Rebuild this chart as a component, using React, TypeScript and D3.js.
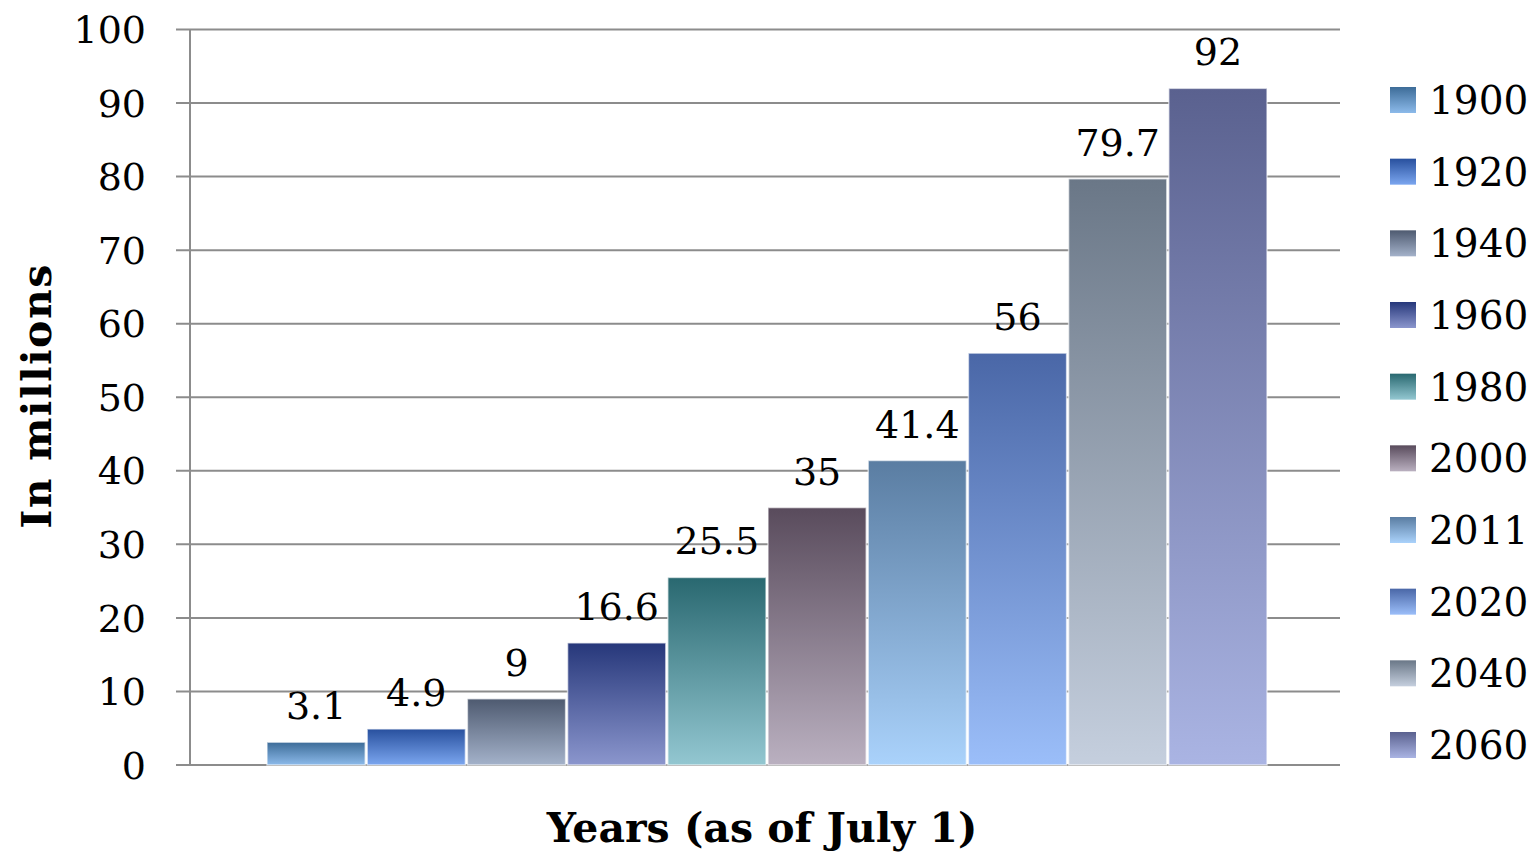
import * as d3 from "d3";
import { useEffect, useRef } from "react";

const years = ["1900", "1920", "1940", "1960", "1980", "2000", "2011", "2020", "2040", "2060"];
const values = [3.1, 4.9, 9, 16.6, 25.5, 35, 41.4, 56, 79.7, 92];
const labels = ["3.1", "4.9", "9", "16.6", "25.5", "35", "41.4", "56", "79.7", "92"];
const topColors = ["#3d6c98", "#28509e", "#4e5a70", "#26377a", "#296870", "#594b5c", "#5a7da2", "#4a67a7", "#6a7787", "#5a618f"];
const bottomColors = ["#8cbaea", "#7ba6ef", "#a4b2ca", "#8b96cd", "#93c7d1", "#bab0c0", "#aad2fb", "#9bbef9", "#c5cfde", "#aab4e3"];
const yTicks = [0, 10, 20, 30, 40, 50, 60, 70, 80, 90, 100];

const W = 1539;
const H = 853;
const FONT = "'DejaVu Serif', serif";

const App = () => {
  const svgRef = useRef<SVGSVGElement | null>(null);

  useEffect(() => {
    if (!svgRef.current) return;
    const svg = d3.select(svgRef.current);
    svg.selectAll("*").remove();

    const axisX = 190;
    const plotRight = 1340;

    const y = d3.scaleLinear().domain([0, 100]).range([765, 29.5]);
    const x = d3.scaleBand<string>().domain(years).range([266, 1268]).paddingInner(0);

    const defs = svg.append("defs");
    years.forEach((yr, i) => {
      const g = defs.append("linearGradient")
        .attr("id", `grad${i}`)
        .attr("x1", 0).attr("y1", 0).attr("x2", 0).attr("y2", 1);
      g.append("stop").attr("offset", "0%").attr("stop-color", topColors[i]);
      g.append("stop").attr("offset", "100%").attr("stop-color", bottomColors[i]);
    });

    // gridlines + ticks
    svg.append("g")
      .selectAll("line")
      .data(yTicks)
      .enter().append("line")
      .attr("x1", 176)
      .attr("x2", plotRight)
      .attr("y1", d => y(d))
      .attr("y2", d => y(d))
      .attr("stroke", "#8c8c8c")
      .attr("stroke-width", 2);

    svg.append("line")
      .attr("x1", axisX).attr("x2", axisX)
      .attr("y1", y(100)).attr("y2", y(0))
      .attr("stroke", "#8c8c8c")
      .attr("stroke-width", 2);

    svg.append("g")
      .selectAll("text")
      .data(yTicks)
      .enter().append("text")
      .attr("x", 146)
      .attr("y", d => y(d))
      .attr("dy", "0.36em")
      .attr("text-anchor", "end")
      .attr("font-family", FONT)
      .attr("font-size", 38)
      .attr("fill", "#000")
      .text(d => d);

    // bars
    svg.append("g")
      .selectAll("rect")
      .data(values)
      .enter().append("rect")
      .attr("x", (d, i) => x(years[i])! + 1)
      .attr("y", d => y(d))
      .attr("width", x.bandwidth() - 2)
      .attr("height", d => y(0) - y(d))
      .attr("fill", (d, i) => `url(#grad${i})`)
      .attr("stroke", "rgba(255,255,255,0.6)")
      .attr("stroke-width", 1.5);

    // value labels
    svg.append("g")
      .selectAll("text")
      .data(values)
      .enter().append("text")
      .attr("x", (d, i) => x(years[i])! + x.bandwidth() / 2)
      .attr("y", d => y(d) - 23)
      .attr("text-anchor", "middle")
      .attr("font-family", FONT)
      .attr("font-size", 38)
      .attr("fill", "#000")
      .text((d, i) => labels[i]);

    // legend
    const legendY = d3.scalePoint<string>().domain(years).range([100, 745]);
    const leg = svg.append("g");
    leg.selectAll("rect")
      .data(years)
      .enter().append("rect")
      .attr("x", 1390)
      .attr("y", d => legendY(d)! - 13)
      .attr("width", 26)
      .attr("height", 26)
      .attr("fill", (d, i) => `url(#grad${i})`);
    leg.selectAll("text")
      .data(years)
      .enter().append("text")
      .attr("x", 1429)
      .attr("y", d => legendY(d)!)
      .attr("dy", "0.36em")
      .attr("font-family", FONT)
      .attr("font-size", 39)
      .attr("fill", "#000")
      .text(d => d);

    // axis titles
    svg.append("text")
      .attr("transform", `translate(51, 396) rotate(-90)`)
      .attr("text-anchor", "middle")
      .attr("font-family", FONT)
      .attr("font-weight", "bold")
      .attr("font-size", 41)
      .attr("letter-spacing", 1.5)
      .text("In millions");

    svg.append("text")
      .attr("x", 762)
      .attr("y", 842)
      .attr("text-anchor", "middle")
      .attr("font-family", FONT)
      .attr("font-weight", "bold")
      .attr("font-size", 41)
      .text("Years (as of July 1)");
  }, []);

  return (
    <svg ref={svgRef} width={W} height={H} style={{ display: "block", position: "absolute", left: 0, top: 0 }}></svg>
  );
};

export default App;
